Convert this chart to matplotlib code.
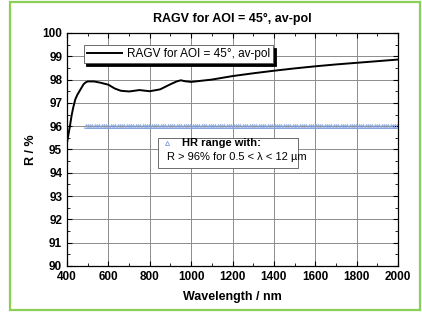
import matplotlib

matplotlib.use("Agg")
import matplotlib.pyplot as plt
import numpy as np
from matplotlib.lines import Line2D
from matplotlib.patches import Rectangle

plt.rcParams["font.family"] = ["Liberation Sans", "DejaVu Sans"]

# measured reflectance curve
wavelength = [400, 407, 414, 422, 430, 440, 450, 460, 470, 480, 490, 500, 530, 560,
              600, 630, 660, 700, 750, 800, 850, 900, 930, 950, 970, 1000, 1050,
              1100, 1200, 1300, 1400, 1500, 1600, 1700, 1800, 1900, 2000]
reflectance = [95.3, 95.65, 96.0, 96.45, 96.8, 97.15, 97.35, 97.5, 97.65, 97.8, 97.88,
               97.92, 97.92, 97.87, 97.78, 97.62, 97.52, 97.49, 97.55, 97.5, 97.58,
               97.8, 97.92, 97.97, 97.93, 97.9, 97.95, 98.0, 98.15, 98.27, 98.38,
               98.48, 98.57, 98.65, 98.72, 98.79, 98.86]

# HR specification level (R > 96 %)
hr_wavelength = np.arange(490, 2001, 11)
hr_level = np.full(hr_wavelength.shape, 96.0)

TITLE = "RAGV for AOI = 45°, av-pol"
GREEN = "#8acf58"
HR_BLUE = "#7f9fdc"
GRID = "#8c8c8c"

fig = plt.figure(figsize=(4.22, 3.15), dpi=100, facecolor="white")
ax = fig.add_axes([0.1588, 0.1556, 0.7845, 0.7397])

ax.plot(hr_wavelength, hr_level, linestyle="none", marker="^", markersize=3.0,
        markerfacecolor="none", markeredgecolor=HR_BLUE, markeredgewidth=0.55)
ax.plot(wavelength, reflectance, color="black", linewidth=1.4, label=TITLE)

ax.set_xlim(400, 2000)
ax.set_ylim(90, 100)
ax.set_xticks(np.arange(400, 2001, 200))
ax.set_xticks(np.arange(400, 2001, 100), minor=True)
ax.set_yticks(np.arange(90, 101, 1))
ax.set_yticks(np.arange(90, 100.01, 0.5), minor=True)
ax.grid(True, which="major", color=GRID, linewidth=0.7)
ax.tick_params(which="both", direction="in", top=True, right=True, labelsize=8.5)
ax.tick_params(which="major", length=3.5, width=0.8)
ax.tick_params(which="minor", length=2, width=0.6)
for lab in ax.get_xticklabels() + ax.get_yticklabels():
    lab.set_fontweight("bold")
for sp in ax.spines.values():
    sp.set_linewidth(0.9)

ax.set_xlabel("Wavelength / nm", fontsize=9, fontweight="bold", labelpad=6)
ax.set_ylabel("R / %", fontsize=9, fontweight="bold", labelpad=4)
ax.set_title(TITLE, fontsize=9, fontweight="bold", pad=8)

leg = ax.legend(loc="upper left", bbox_to_anchor=(0.033, 0.974), fontsize=8.5,
                frameon=True, fancybox=False, edgecolor="#555555", framealpha=1,
                borderpad=0.25, handlelength=3.0, handletextpad=0.4,
                shadow={"color": "black", "alpha": 1.0, "ox": 1.8, "oy": -2.2})
leg.get_frame().set_linewidth(0.6)

# HR range annotation box
ax.add_patch(Rectangle((840, 94.2), 677, 1.29, facecolor="white",
                       edgecolor="#555555", linewidth=0.6, zorder=5))
ax.add_line(Line2D([883], [95.28], linestyle="none", marker="^", markersize=3.0,
                   markerfacecolor="none", markeredgecolor=HR_BLUE,
                   markeredgewidth=0.6, zorder=6))
ax.text(955, 95.28, "HR range with:", fontsize=8, fontweight="bold",
        va="center", ha="left", zorder=6)
ax.text(885, 94.68, "R > 96% for 0.5 < λ < 12 µm", fontsize=8,
        va="center", ha="left", zorder=6)

fig.add_artist(Rectangle((10 / 422, 5 / 315), 410 / 422, 308 / 315,
                         transform=fig.transFigure, fill=False,
                         edgecolor=GREEN, linewidth=1.6))

fig.savefig("out.png", dpi=100, facecolor="white")
